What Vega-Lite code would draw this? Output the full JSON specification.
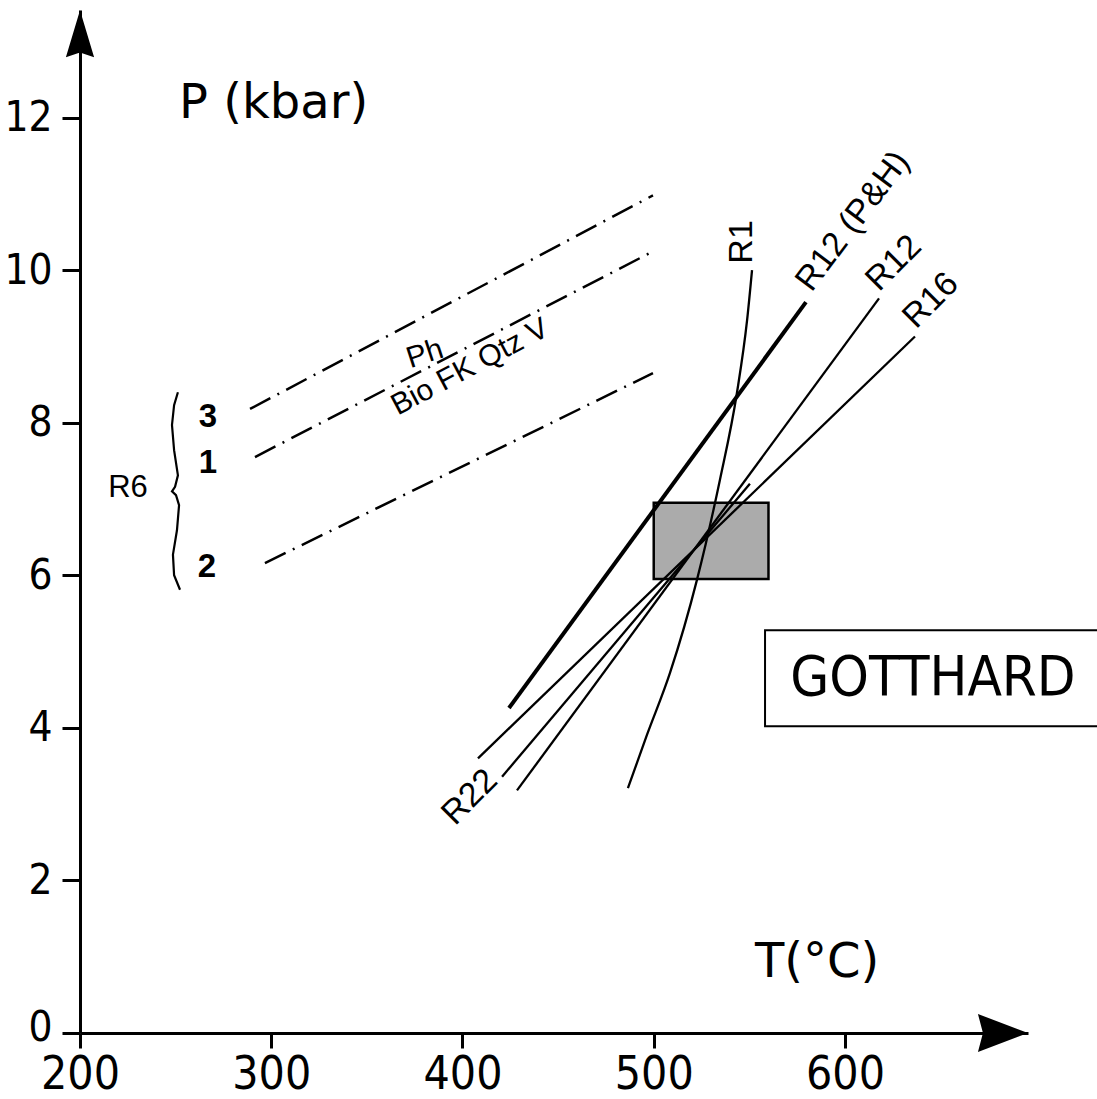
{
  "$schema": "https://vega.github.io/schema/vega-lite/v6.json",
  "width": 948,
  "height": 1023,
  "autosize": {"type": "none"},
  "padding": {"left": 80, "top": 10, "right": 69, "bottom": 66},
  "background": "white",
  "config": {"view": {"stroke": null}},
  "datasets": {
    "dashdot": [
      {"id": "3", "T": 288.9, "P": 8.18, "o": 1}, {"id": "3", "T": 499.6, "P": 10.98, "o": 2},
      {"id": "1", "T": 291.5, "P": 7.55, "o": 1}, {"id": "1", "T": 500.7, "P": 10.26, "o": 2},
      {"id": "2", "T": 296.7, "P": 6.16, "o": 1}, {"id": "2", "T": 499.6, "P": 8.65, "o": 2}
    ],
    "thin": [
      {"id": "R12", "T": 428.5, "P": 3.18, "o": 1}, {"id": "R12", "T": 617.8, "P": 9.63, "o": 2},
      {"id": "R16", "T": 408.1, "P": 3.60, "o": 1}, {"id": "R16", "T": 636.6, "P": 9.13, "o": 2},
      {"id": "R22", "T": 420.7, "P": 3.36, "o": 1}, {"id": "R22", "T": 550.3, "P": 7.20, "o": 2}
    ],
    "r1": [
      {"T": 486.5, "P": 3.21}, {"T": 496.5, "P": 3.91}, {"T": 508.5, "P": 4.72},
      {"T": 522.6, "P": 5.94}, {"T": 534.6, "P": 7.25}, {"T": 543.5, "P": 8.39},
      {"T": 548.8, "P": 9.34}, {"T": 551.4, "P": 10.0}
    ],
    "thick": [
      {"id": "R12 (P&H)", "T": 424.3, "P": 4.26, "o": 1}, {"id": "R12 (P&H)", "T": 579.6, "P": 9.58, "o": 2}
    ],
    "brace": [
      {"T": 251.2, "P": 8.40, "o": 1}, {"T": 249.2, "P": 8.23, "o": 2}, {"T": 248.1, "P": 7.97, "o": 3},
      {"T": 249.2, "P": 7.64, "o": 4}, {"T": 251.2, "P": 7.31, "o": 5}, {"T": 249.7, "P": 7.16, "o": 6},
      {"T": 248.1, "P": 7.10, "o": 7}, {"T": 250.2, "P": 7.05, "o": 8}, {"T": 251.8, "P": 6.92, "o": 9},
      {"T": 250.7, "P": 6.59, "o": 10}, {"T": 248.6, "P": 6.27, "o": 11}, {"T": 249.2, "P": 6.00, "o": 12},
      {"T": 252.3, "P": 5.81, "o": 13}
    ]
  },
  "encoding": {
    "x": {
      "field": "T", "type": "quantitative",
      "scale": {"domain": [200, 695.7], "nice": false, "zero": false},
      "axis": {
        "values": [200, 300, 400, 500, 600], "title": null, "grid": false, "format": "d",
        "domainColor": "black", "domainWidth": 3, "tickColor": "black", "tickWidth": 3, "tickSize": 15,
        "labelFont": "DejaVu Sans Condensed", "labelFontSize": 46, "labelColor": "black",
        "labelPadding": 4, "labelFlush": false, "labelOverlap": false, "labelBound": false
      }
    },
    "y": {
      "field": "P", "type": "quantitative",
      "scale": {"domain": [0, 13.41], "nice": false, "zero": false},
      "axis": {
        "values": [0, 2, 4, 6, 8, 10, 12], "title": null, "grid": false, "format": "d",
        "domainColor": "black", "domainWidth": 3, "tickColor": "black", "tickWidth": 3, "tickSize": 18,
        "labelFont": "DejaVu Sans Condensed", "labelFontSize": 42, "labelColor": "black",
        "labelOffset": {"condition": {"test": "datum.value === 0", "value": -6}, "value": 0},
        "labelPadding": 10, "labelFlush": false, "labelOverlap": false, "labelBound": false
      }
    }
  },
  "layer": [
    {
      "data": {"values": [{"T": 500, "T2": 560, "P": 5.95, "P2": 6.95}]},
      "mark": {"type": "rect", "fill": "#ababab", "stroke": "black", "strokeWidth": 2.5},
      "encoding": {"x2": {"field": "T2"}, "y2": {"field": "P2"}}
    },
    {
      "data": {"values": [{"T": 558.2, "T2": 740, "P": 4.02, "P2": 5.28}]},
      "mark": {"type": "rect", "fill": "white", "stroke": "black", "strokeWidth": 2},
      "encoding": {"x2": {"field": "T2"}, "y2": {"field": "P2"}}
    },
    {
      "data": {"name": "dashdot"},
      "mark": {"type": "line", "color": "black", "strokeWidth": 2.5, "strokeDash": [23, 8, 2, 8]},
      "encoding": {"detail": {"field": "id"}, "order": {"field": "o"}}
    },
    {
      "data": {"name": "thin"},
      "mark": {"type": "line", "color": "black", "strokeWidth": 2.3},
      "encoding": {"detail": {"field": "id"}, "order": {"field": "o"}}
    },
    {
      "data": {"name": "r1"},
      "mark": {"type": "line", "color": "black", "strokeWidth": 2.3, "interpolate": "monotone"},
      "encoding": {}
    },
    {
      "data": {"name": "thick"},
      "mark": {"type": "line", "color": "black", "strokeWidth": 4},
      "encoding": {"order": {"field": "o"}}
    },
    {
      "data": {"name": "brace"},
      "mark": {"type": "line", "color": "black", "strokeWidth": 2.2, "interpolate": "linear"},
      "encoding": {"order": {"field": "o"}}
    },
    {
      "data": {"values": [{"T": 682.6, "P": 0}]},
      "mark": {"type": "point", "shape": "M1,0L-1,-0.76L-0.8,0L-1,0.76Z", "size": 2500, "filled": true, "color": "black", "opacity": 1}
    },
    {
      "data": {"values": [{"T": 200, "P": 13.1}]},
      "mark": {"type": "point", "shape": "M0,-1L-0.6,1L0,0.8L0.6,1Z", "size": 2209, "filled": true, "color": "black", "opacity": 1}
    },
    {
      "data": {"values": [{"label": "P (kbar)", "T": 251.8, "P": 12.0}, {"label": "T(°C)", "T": 552.9, "P": 0.73}]},
      "mark": {"type": "text", "font": "DejaVu Sans", "fontSize": 48, "align": "left", "baseline": "alphabetic", "color": "black"},
      "encoding": {"text": {"field": "label"}}
    },
    {
      "data": {"values": [{"label": "GOTTHARD", "T": 646.0, "P": 4.43}]},
      "mark": {"type": "text", "font": "DejaVu Sans Condensed", "fontSize": 56, "align": "center", "baseline": "alphabetic", "color": "black"},
      "encoding": {"text": {"field": "label"}}
    },
    {
      "data": {"values": [{"label": "R6", "T": 225.1, "P": 7.14}]},
      "mark": {"type": "text", "font": "Liberation Sans", "fontSize": 31, "align": "center", "baseline": "middle", "color": "black"},
      "encoding": {"text": {"field": "label"}}
    },
    {
      "data": {"values": [{"label": "3", "T": 266.9, "P": 8.07}, {"label": "1", "T": 266.9, "P": 7.47}, {"label": "2", "T": 266.4, "P": 6.11}]},
      "mark": {"type": "text", "font": "Liberation Sans", "fontWeight": "bold", "fontSize": 33, "align": "center", "baseline": "middle", "color": "black"},
      "encoding": {"text": {"field": "label"}}
    },
    {
      "data": {"values": [{"label": "R1", "T": 546.1, "P": 10.37}]},
      "mark": {"type": "text", "font": "Liberation Sans", "fontSize": 34, "angle": 270, "align": "center", "baseline": "middle", "color": "black"},
      "encoding": {"text": {"field": "label"}}
    },
    {
      "data": {"values": [{"label": "R12 (P&H)", "T": 604.2, "P": 10.64}]},
      "mark": {"type": "text", "font": "Liberation Sans", "fontSize": 34, "angle": 307, "align": "center", "baseline": "middle", "color": "black"},
      "encoding": {"text": {"field": "label"}}
    },
    {
      "data": {"values": [{"label": "R12", "T": 625.6, "P": 10.09}, {"label": "R16", "T": 645.0, "P": 9.60}, {"label": "R22", "T": 403.9, "P": 3.09}]},
      "mark": {"type": "text", "font": "Liberation Sans", "fontSize": 34, "angle": 315, "align": "center", "baseline": "middle", "color": "black"},
      "encoding": {"text": {"field": "label"}}
    },
    {
      "data": {"values": [{"label": "Ph", "T": 380.4, "P": 8.90}]},
      "mark": {"type": "text", "font": "Liberation Sans", "fontSize": 30, "angle": 342, "align": "center", "baseline": "middle", "color": "black"},
      "encoding": {"text": {"field": "label"}}
    },
    {
      "data": {"values": [{"label": "Bio FK Qtz V", "T": 403.9, "P": 8.73}]},
      "mark": {"type": "text", "font": "Liberation Sans", "fontSize": 30, "angle": 332, "align": "center", "baseline": "middle", "color": "black"},
      "encoding": {"text": {"field": "label"}}
    }
  ]
}
